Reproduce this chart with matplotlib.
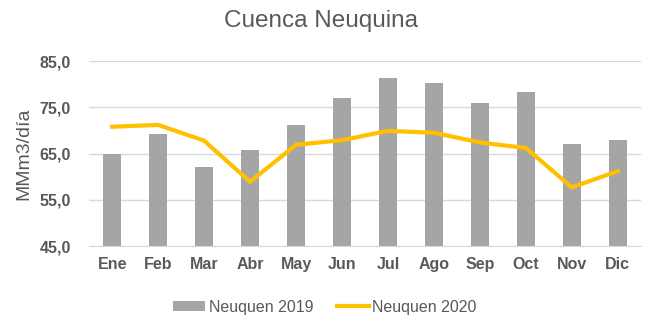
import matplotlib
matplotlib.use("Agg")
import matplotlib.pyplot as plt
from matplotlib.ticker import FixedLocator, FuncFormatter

months = ["Ene", "Feb", "Mar", "Abr", "May", "Jun", "Jul", "Ago", "Sep", "Oct", "Nov", "Dic"]
neuquen_2019 = [64.8, 69.2, 62.0, 65.7, 71.1, 77.0, 81.3, 80.3, 75.9, 78.3, 67.0, 67.9]
neuquen_2020 = [70.8, 71.2, 67.8, 58.9, 66.9, 67.9, 69.9, 69.5, 67.4, 66.2, 57.7, 61.2]
y_ticks = [45, 55, 65, 75, 85]

plt.rcParams["font.family"] = ["Liberation Sans", "DejaVu Sans"]
text_color = "#595959"

fig = plt.figure(figsize=(6.46, 3.25), dpi=100)
ax = fig.add_axes([0.138, 0.243, 0.854, 0.569])

x = list(range(len(months)))
bars = ax.bar(x, [v - 45 for v in neuquen_2019], bottom=45, width=0.39, color="#A5A5A5",
              label="Neuquen 2019", zorder=2)
line, = ax.plot(x, neuquen_2020, color="#FFC000", linewidth=3.0, solid_joinstyle="miter",
                label="Neuquen 2020", zorder=3)

ax.set_xlim(-0.5, len(months) - 0.5)
ax.set_ylim(45, 85)
ax.yaxis.set_major_locator(FixedLocator(y_ticks))
ax.yaxis.set_major_formatter(FuncFormatter(lambda v, p: f"{v:.1f}".replace(".", ",")))
ax.set_xticks(x)
ax.set_xticklabels(months)

ax.grid(axis="y", color="#D9D9D9", linewidth=1.0, zorder=0)
for s in ["top", "right", "left"]:
    ax.spines[s].set_visible(False)
ax.spines["bottom"].set_color("#D9D9D9")
ax.tick_params(axis="x", length=0, labelsize=11.5, colors=text_color, pad=8)
ax.tick_params(axis="y", length=0, labelsize=11.5, colors=text_color, pad=13)
for lbl in ax.get_xticklabels() + ax.get_yticklabels():
    lbl.set_fontweight("bold")

ax.set_ylabel("MMm3/día", fontsize=14, color=text_color, labelpad=5)
fig.text(0.497, 0.935, "Cuenca Neuquina", ha="center", va="center", fontsize=17.5, color=text_color)

leg = fig.legend([bars, line], ["Neuquen 2019", "Neuquen 2020"], loc="center",
                 bbox_to_anchor=(0.503, 0.055), ncol=2, frameon=False,
                 fontsize=11.5, handlelength=2.0, handleheight=0.6, columnspacing=1.5,
                 handletextpad=0.2)
for t in leg.get_texts():
    t.set_color(text_color)

fig.savefig("out.png", dpi=100)
